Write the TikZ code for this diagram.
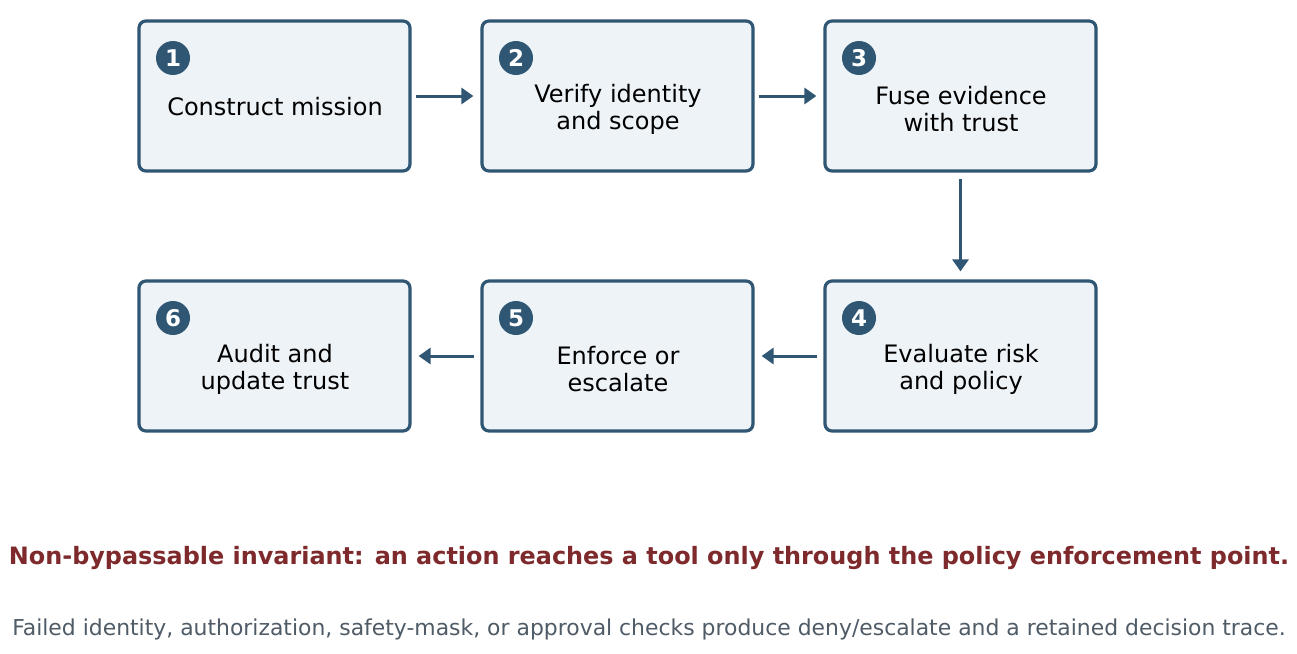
\documentclass[tikz,border=0pt]{standalone}
\usepackage{fontspec}
\setmainfont{DejaVu Sans}
\usetikzlibrary{arrows.meta}
\definecolor{edge}{HTML}{2F5673}
\definecolor{boxfill}{HTML}{EEF3F8}
\definecolor{redtxt}{HTML}{7E2A2C}
\definecolor{graytxt}{HTML}{4F5B66}
\tikzset{
  stepbox/.style={draw=edge, line width=3.2pt, fill=boxfill, rounded corners=7pt,
    minimum width=271pt, minimum height=150pt, inner sep=0pt},
  boxtext/.style={font=\fontsize{24}{27}\selectfont, align=center, text=black},
  badge/.style={circle, fill=edge, minimum size=34pt, inner sep=0pt,
    text=white, font=\fontsize{23}{23}\selectfont\bfseries},
  flow/.style={draw=edge, line width=3pt, -{Triangle[length=12pt,width=16pt]}},
}
\begin{document}
\begin{tikzpicture}[x=1pt,y=-1pt]
\useasboundingbox (0,0) rectangle (1297,653);
\fill[white] (0,0) rectangle (1297,653);
% boxes
\node[stepbox] (b1) at (274.5,96) {};
\node[stepbox] (b2) at (617.5,96) {};
\node[stepbox] (b3) at (960.5,96) {};
\node[stepbox] (b6) at (274.5,356) {};
\node[stepbox] (b5) at (617.5,356) {};
\node[stepbox] (b4) at (960.5,356) {};
% badges
\node[badge] (n1) at (173,58) {1};
\node[badge] (n2) at (516,58) {2};
\node[badge] (n3) at (859,58) {3};
\node[badge] (n6) at (173,318) {6};
\node[badge] (n5) at (516,318) {5};
\node[badge] (n4) at (859,318) {4};
% texts
\node[boxtext] (t1) at (275,107) {Construct mission};
\node[boxtext] (t2) at (618,109) {Verify identity\\and scope};
\node[boxtext] (t3) at (961,109) {Fuse evidence\\with trust};
\node[boxtext] (t4) at (961,369) {Evaluate risk\\and policy};
\node[boxtext] (t5) at (618,369) {Enforce or\\escalate};
\node[boxtext] (t6) at (275,369) {Audit and\\update trust};
% arrows
\draw[flow] ([xshift=4pt]b1.east) -- ([xshift=-7pt]b2.west);
\draw[flow] ([xshift=4pt]b2.east) -- ([xshift=-7pt]b3.west);
\draw[flow] ([yshift=-6pt]b3.south) -- ([yshift=8pt]b4.north);
\draw[flow] ([xshift=-6pt]b4.west) -- ([xshift=7pt]b5.east);
\draw[flow] ([xshift=-6pt]b5.west) -- ([xshift=7pt]b6.east);
% captions
\node[text=redtxt, font=\fontsize{23.9}{26}\selectfont\bfseries] (c1) at (649,558)
  {Non-bypassable invariant: an action reaches a tool only through the policy enforcement point.};
\node[text=graytxt, font=\fontsize{21.9}{24}\selectfont] (c2) at (649,629)
  {Failed identity, authorization, safety-mask, or approval checks produce deny/escalate and a retained decision trace.};
\end{tikzpicture}
\end{document}
